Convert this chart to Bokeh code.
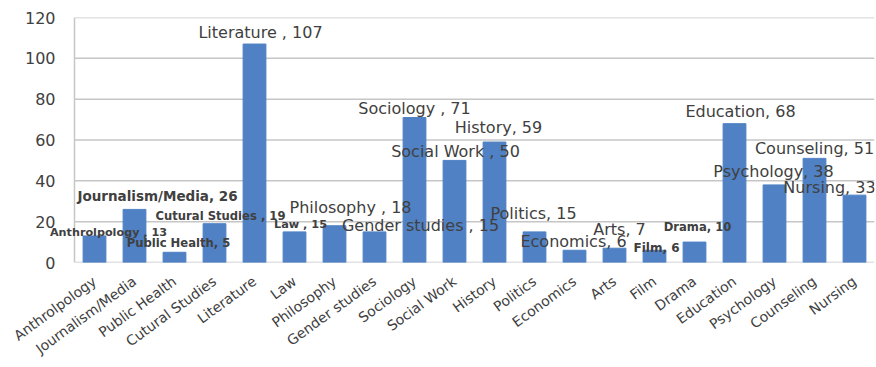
from bokeh.plotting import figure
from bokeh.models import ColumnDataSource, Range1d, FixedTicker, Label
from bokeh.embed import file_html
from bokeh.resources import INLINE

categories = ["Anthrolpology", "Journalism/Media", "Public Health", "Cutural Studies",
              "Literature", "Law", "Philosophy", "Gender studies", "Sociology",
              "Social Work", "History", "Politics", "Economics", "Arts", "Film",
              "Drama", "Education", "Psychology", "Counseling", "Nursing"]
values = [13, 26, 5, 19, 107, 15, 18, 15, 71, 50, 59, 15, 6, 7, 6, 10, 68, 38, 51, 33]
separators = [" , ", ", ", ", ", " , ", " , ", " , ", " , ", " , ", " , ", " , ",
              ", ", ", ", ", ", ", ", ", ", ", ", ", ", ", ", ", ", ", "]
y_ticks = [0, 20, 40, 60, 80, 100, 120]

# label placement (screen pixels relative to bar top; rise is upward) and style
label_dx = [14, 23, 4, 6, 6, 6, 16, 46, 0, 1, 4, -1, -1, 5, 2, 3, 6, -1, 0, -25]
label_rise = [3.5, 13, 9, 8, 11.5, 7, 18, 6, 9, 9, 15, 18, 9, 19, 2, 15, 12, 13, 10, 8]
label_size = ["11.2px", "13.5px", "11.6px", "11.6px", "16px", "11.3px", "16px", "16px", "16px", "16px",
              "16px", "16px", "16px", "16px", "12px", "11.6px", "16px", "16px", "16px", "16px"]
label_style = ["bold", "bold", "bold", "bold", "normal", "bold", "normal", "normal", "normal", "normal",
               "normal", "normal", "normal", "normal", "bold", "bold", "normal", "normal", "normal", "normal"]

labels = [f"{c}{s}{v}" for c, s, v in zip(categories, separators, values)]
xs = list(range(len(categories)))
first, last = xs[0] - 0.5, xs[-1] + 0.5

src = ColumnDataSource(dict(x=xs, cat=categories, val=values))

# the frame reaches a little left of the first category so that the first
# data label is not cut off; the chart's own box starts at the first category
p = figure(x_range=Range1d(first - 0.65, last), y_range=Range1d(y_ticks[0], y_ticks[-1]),
           width=876, height=367, output_backend="svg", toolbar_location=None,
           min_border_left=48, min_border_right=2, min_border_top=17, min_border_bottom=105)

grid_color = "#c6c6c6"
p.segment(x0=first, x1=last, y0=y_ticks, y1=y_ticks, line_color=grid_color, line_width=1.5)
p.segment(x0=first, x1=first, y0=y_ticks[0], y1=y_ticks[-1], line_color=grid_color, line_width=1.5)

p.vbar(x="x", top="val", width=0.57, color="#4F81C4", source=src)

for x, v, t, dx, dy, fs, st in zip(xs, values, labels, label_dx, label_rise,
                                   label_size, label_style):
    p.add_layout(Label(x=x, y=v, text=t, x_offset=dx, y_offset=dy,
                       text_font_size=fs, text_font_style=st, text_font="DejaVu Sans",
                       text_align="center", text_baseline="middle", text_color="#404040"))

p.outline_line_color = None
p.xgrid.grid_line_color = None
p.ygrid.grid_line_color = None

p.yaxis.ticker = FixedTicker(ticks=y_ticks)
p.xaxis.ticker = FixedTicker(ticks=xs)
p.xaxis.major_label_overrides = {x: c for x, c in zip(xs, categories)}
for ax in (p.xaxis, p.yaxis):
    ax.axis_line_color = None
    ax.major_tick_line_color = None
    ax.minor_tick_line_color = None
    ax.major_tick_out = 0
    ax.major_tick_in = 0
    ax.major_label_text_font = "DejaVu Sans"
    ax.major_label_text_color = "#404040"
p.yaxis.major_label_text_font_size = "16px"
p.xaxis.major_label_text_font_size = "14px"
p.yaxis.major_label_standoff = -7
p.xaxis.major_label_orientation = 0.63
p.xaxis.major_label_standoff = 17

open("out.html", "w").write(file_html(p, INLINE))
